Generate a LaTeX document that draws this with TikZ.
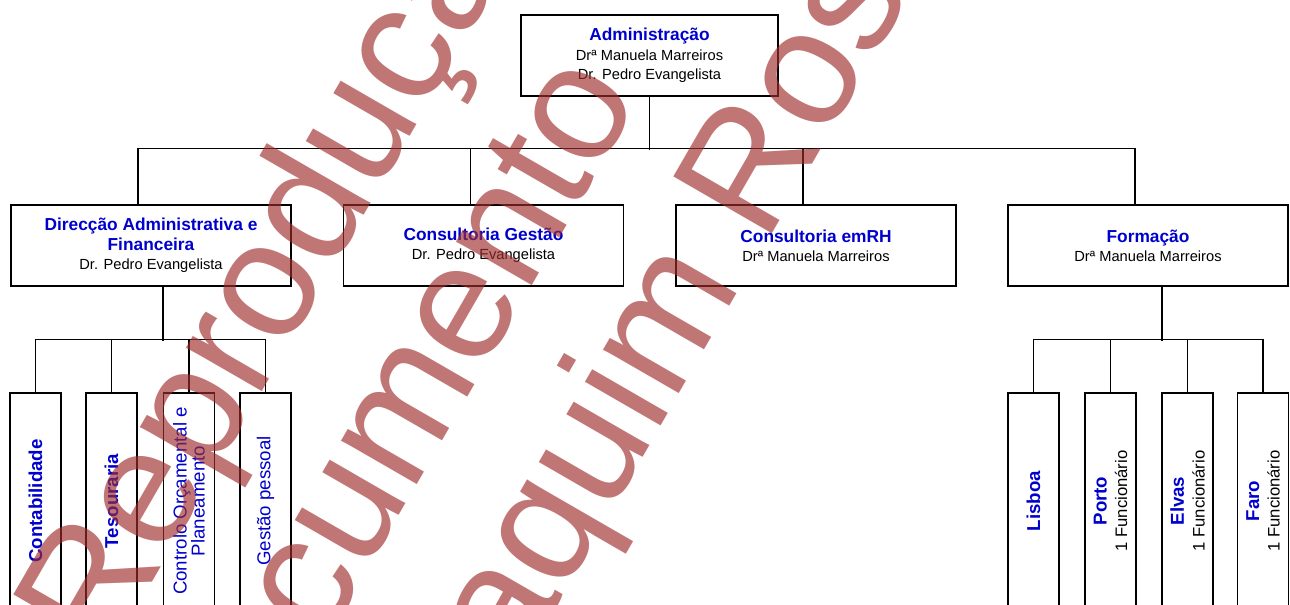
\documentclass[tikz,border=0pt]{standalone}
\usepackage{fontspec}
\setmainfont{Liberation Sans}
\usetikzlibrary{calc}
\definecolor{titleblue}{RGB}{0,0,205}
\definecolor{stamp}{RGB}{160,45,45}
\newcommand{\utitle}[1]{{\fontsize{13}{14.5}\selectfont\bfseries\color{titleblue}#1}}
\newcommand{\dtitle}[1]{{\bfseries\color{titleblue}#1}}
\newcommand{\staff}[1]{{\fontsize{12.5}{13.5}\selectfont #1}}

\begin{document}
\begin{tikzpicture}[x=0.75pt,y=-0.75pt]
    \tikzset{unit/.style= {draw, rectangle, line width=0.9pt
    , inner sep=0pt
    , minimum width=210pt
    , minimum height=60.75pt
    , align=center
    , font=\fontsize{11}{14.5}\selectfont
      }
    , dept/.style= {draw, rectangle, line width=0.9pt
    , rotate=90
    , inner sep=0pt
    , minimum width=162pt
    , minimum height=38.25pt
    , align=center
    , font=\fontsize{14}{13.5}\selectfont
      }
    , link/.style={draw, line width=0.9pt}
    , stamptext/.style={text=stamp, text opacity=0.65
    , font=\fontsize{124}{130}\selectfont
    , rotate=60, inner sep=0pt, anchor=base west}
    }

\useasboundingbox (0,0) rectangle (1290,604);
\clip (0,0) rectangle (1290,604);
\fill[white] (0,0) rectangle (1290,604);

% top and second level
\node [unit, minimum width=192.75pt] (adm) at (649.5,55.5)
  {\utitle{Administração}\\ Drª Manuela Marreiros\\ Dr. Pedro Evangelista};
\node [unit] (daf) at (151,245.5)
  {\utitle{Direcção Administrativa e}\\ \utitle{Financeira}\\ Dr. Pedro Evangelista};
\node [unit] (cg) at (483.5,245.5) {\utitle{Consultoria Gestão}\\ Dr. Pedro Evangelista};
\node [unit] (crh) at (816,245.5) {\utitle{Consultoria emRH}\\ Drª Manuela Marreiros};
\node [unit] (form) at (1148,245.5) {\utitle{Formação}\\ Drª Manuela Marreiros};

% third level (rotated, so east is the top side)
\node [dept] (cont) at (35.5,501) {\dtitle{Contabilidade}};
\node [dept] (tes) at (111.5,501) {\dtitle{Tesouraria}};
\node [dept] (ctrl) at (189,501) {\color{titleblue}Controlo Orçamental e\\ \color{titleblue}Planeamento};
\node [dept] (gp) at (265.5,501) {\color{titleblue}Gestão pessoal};

\node [dept] (lis) at (1033.5,501) {\dtitle{Lisboa}};
\node [dept] (por) at (1110.5,501) {\dtitle{Porto}\\[2pt] \staff{1 Funcionário}};
\node [dept] (elv) at (1187.5,501) {\dtitle{Elvas}\\[2pt] \staff{1 Funcionário}};
\node [dept] (far) at (1263,501) {\dtitle{Faro}\\[2pt] \staff{1 Funcionário}};

 \path[link] (adm.south) -- ++(0,53);
 \path[link] ($(daf.north)+(-13,-56)$) -- ($(form.north)+(-13,-56)$);
 \foreach \n in {daf,cg,crh,form}
   \path[link] ($(\n.north)+(-13,0)$) -- ++(0,-56);

 \path[link] ($(daf.south)+(12,0)$) -- ++(0,54);
 \path[link] ($(cont.east)+(0,-53)$) -- ($(gp.east)+(0,-53)$);
 \foreach \n in {cont,tes,ctrl,gp}
   \path[link] (\n.east) -- ++(0,-53);

 \path[link] ($(form.south)+(14,0)$) -- ++(0,54);
 \path[link] ($(lis.east)+(0,-53)$) -- ($(far.east)+(0,-53)$);
 \foreach \n in {lis,por,elv,far}
   \path[link] (\n.east) -- ++(0,-53);

% watermark
\node [stamptext] (wm1) at (105,664) {Reprodução};
\node [stamptext] (wm2) at (232,805) {documento};
\node [stamptext] (wm3) at (430,826) {Joaquim Rosa};
\end{tikzpicture}
\end{document}
